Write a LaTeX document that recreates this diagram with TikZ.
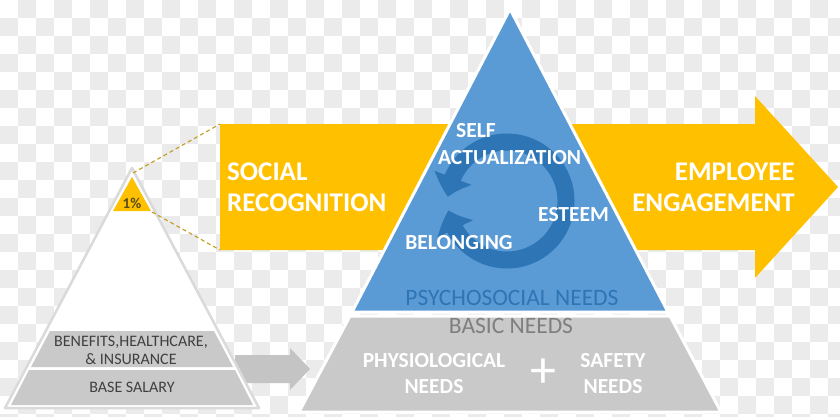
\documentclass[tikz,border=0pt]{standalone}
\usepackage{fontspec}
\setmainfont{Carlito}
\usetikzlibrary{arrows.meta,bending}
\definecolor{gold}{HTML}{FFC000}
\definecolor{dashgold}{HTML}{C49A1C}
\definecolor{skyblue}{HTML}{5B9BD5}
\definecolor{ringblue}{HTML}{2E75B6}
\definecolor{bandgray}{HTML}{C9C9C9}
\definecolor{arrowgray}{HTML}{C4C4C4}
\definecolor{edgegray}{HTML}{DADADA}
\definecolor{checkgray}{HTML}{EBEBEB}
\definecolor{textgray}{HTML}{404040}
\definecolor{basegray}{HTML}{7F7F7F}
\definecolor{pctink}{HTML}{594A1F}
\tikzset{
  bigtext/.style={text=white,inner sep=0pt,
                  font=\bfseries\fontsize{27}{31}\selectfont},
  needtext/.style={text=white,inner sep=0pt,
                   font=\bfseries\fontsize{21.5}{26.5}\selectfont},
  layertext/.style={inner sep=0pt,font=\fontsize{23.5}{26}\selectfont},
  bandtext/.style={text=textgray,inner sep=0pt,align=center,
                   font=\fontsize{16}{18}\selectfont},
  edge/.style={draw=white,line width=3pt,line join=round},
  zoomline/.style={draw=dashgold,line width=1.1pt,dash pattern=on 4pt off 3pt},
  ring/.style={draw=ringblue,line width=17pt,
               {Triangle[width=38pt,length=20pt,bend]}-{Triangle[width=38pt,length=20pt,bend]}}
}
\begin{document}
\begin{tikzpicture}[x=1pt,y=-1pt]
  \useasboundingbox (0,0) rectangle (840,416);

  % checkered backdrop
  \fill[white] (0,0) rectangle (840,416);
  \begin{scope}
    \clip (0,0) rectangle (840,416);
    \foreach \i in {0,...,46}{
      \foreach \j in {0,...,23}{
        \pgfmathparse{int(mod(\i+\j,2))}
        \ifnum\pgfmathresult=1
          \fill[checkgray] (18*\i,18*\j) rectangle ++(18,18);
        \fi
      }
    }
  \end{scope}

  % yellow band with arrow head
  \fill[gold] (220,124) -- (755,124) -- (755,96) -- (838,187)
    -- (755,278) -- (755,250) -- (220,250) -- cycle;

  % gray block arrow
  \fill[arrowgray] (235,355) -- (290,355) -- (290,348) -- (310,369)
    -- (290,390) -- (290,383) -- (235,383) -- cycle;

  % small pyramid
  \filldraw[fill=white,draw=edgegray,line width=2.5pt,line join=round]
    (132,168) -- (5,408) -- (259,408) -- cycle;
  \fill[gold] (132,177) -- (113,211) -- (151,211) -- cycle;
  \fill[bandgray] (50,331) -- (214,331) -- (233,367) -- (31,367) -- cycle;
  \fill[bandgray] (29,370) -- (235,370) -- (253,405) -- (11,405) -- cycle;
  \coordinate (pctop) at (133,173);
  \coordinate (pcright) at (152,212);
  \coordinate (srtop) at (220,124);
  \coordinate (srbottom) at (220,250);
  \draw[zoomline] (pctop) -- (srtop);
  \draw[zoomline] (pcright) -- (srbottom);
  \node[text=pctink,inner sep=0pt,font=\bfseries\fontsize{15}{17}\selectfont]
    (pct) at (132,203) {1\%};
  \node[bandtext] (benefits) at (131,350) {BENEFITS,HEALTHCARE,\\\& INSURANCE};
  \node[bandtext] (salary) at (132,387) {BASE SALARY};

  % big pyramid
  \filldraw[edge,fill=bandgray] (350,316) -- (670,316) -- (721,412)
    -- (299,412) -- cycle;
  \filldraw[edge,fill=skyblue] (510,9) -- (352,312) -- (668,312) -- cycle;
  \draw[ring] ([shift={(171:59)}]507,201) arc[start angle=171,end angle=-176,radius=59];

  % texts
  \node[bigtext,anchor=west,align=left] (social) at (227,187.5)
    {SOCIAL\\RECOGNITION};
  \node[bigtext,anchor=east,align=right] (engage) at (795,187.5)
    {EMPLOYEE\\ENGAGEMENT};
  \node[needtext,anchor=west,align=left] (selfact) at (438,144)
    {\hspace*{18pt}SELF\\ACTUALIZATION};
  \node[needtext,anchor=west] (esteem) at (538,215) {ESTEEM};
  \node[needtext] (belong) at (459,243) {BELONGING};
  \node[layertext,text=ringblue] (psycho) at (512,298) {PSYCHOSOCIAL NEEDS};
  \node[layertext,text=basegray] (basic) at (511,326) {BASIC NEEDS};
  \node[needtext,align=center] (physio) at (434,373.5) {PHYSIOLOGICAL\\NEEDS};
  \node[text=white,inner sep=0pt,font=\fontsize{52}{52}\selectfont]
    (plus) at (543,373) {+};
  \node[needtext,align=center] (safety) at (613,373.5) {SAFETY\\NEEDS};
\end{tikzpicture}
\end{document}
